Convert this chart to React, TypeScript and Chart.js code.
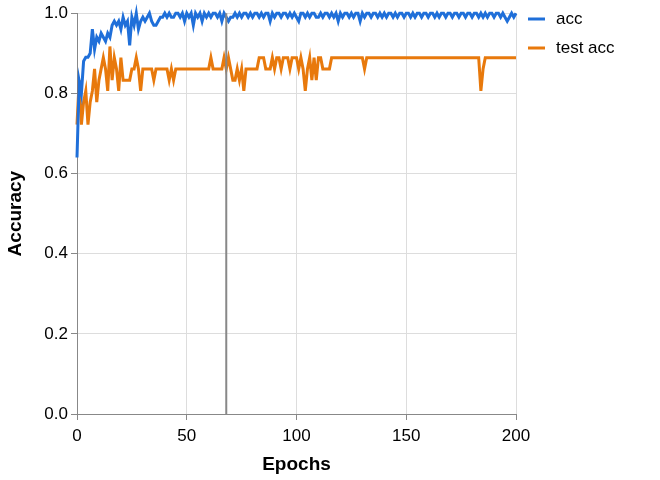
import React, { useEffect, useRef } from "react";
import Chart from "chart.js/auto";

const accValues = [
0.64,0.83,0.80,0.88,0.89,0.89,0.90,0.96,0.91,0.94,
0.93,0.95,0.94,0.93,0.95,0.94,0.97,0.98,0.97,0.98,
0.96,0.99,0.97,0.98,0.92,0.99,0.97,1.0,0.96,0.98,
0.99,0.98,0.99,1.0,0.98,0.97,0.97,0.98,0.99,0.99,
1.0,0.99,1.0,0.99,0.99,1.0,1.0,0.99,1.0,0.98,
1.0,0.99,1.0,0.97,1.0,0.99,1.0,0.98,1.0,0.99,
1.0,0.99,1.0,1.0,0.99,1.0,0.98,1.0,0.99,0.98,
0.99,0.99,1.0,0.99,1.0,0.99,1.0,1.0,0.99,1.0,
0.99,1.0,1.0,0.99,1.0,0.99,1.0,1.0,0.98,1.0,
0.99,1.0,1.0,0.99,1.0,1.0,0.99,1.0,0.99,1.0,
0.99,0.98,1.0,1.0,0.99,1.0,0.99,1.0,1.0,0.99,
0.99,1.0,0.99,1.0,1.0,0.99,1.0,0.99,1.0,0.98,
1.0,0.99,1.0,1.0,0.99,1.0,0.99,1.0,1.0,0.98,
1.0,0.99,1.0,1.0,0.99,1.0,1.0,0.99,1.0,0.99,
1.0,0.99,1.0,1.0,0.99,1.0,0.99,1.0,1.0,0.99,
1.0,1.0,0.99,1.0,0.99,1.0,1.0,0.99,1.0,1.0,
0.99,1.0,1.0,0.99,1.0,0.99,1.0,1.0,0.99,1.0,
1.0,0.99,1.0,1.0,0.99,1.0,1.0,0.99,1.0,1.0,
0.99,1.0,1.0,0.99,1.0,0.99,1.0,0.99,1.0,1.0,
0.99,1.0,1.0,0.99,1.0,0.99,0.98,0.99,1.0,0.99,
1.0
];

const testAccValues = [
0.722,0.833,0.722,0.778,0.806,0.722,0.778,0.806,0.861,0.778,
0.833,0.861,0.889,0.861,0.806,0.917,0.833,0.889,0.861,0.806,
0.889,0.833,0.833,0.833,0.833,0.861,0.861,0.889,0.861,0.806,
0.861,0.861,0.861,0.861,0.861,0.833,0.861,0.861,0.861,0.861,
0.861,0.861,0.833,0.861,0.833,0.861,0.861,0.861,0.861,0.861,
0.861,0.861,0.861,0.861,0.861,0.861,0.861,0.861,0.861,0.861,
0.861,0.889,0.861,0.861,0.861,0.861,0.861,0.889,0.861,0.889,
0.861,0.833,0.833,0.861,0.833,0.861,0.806,0.861,0.861,0.861,
0.861,0.861,0.861,0.889,0.889,0.889,0.861,0.861,0.861,0.889,
0.861,0.889,0.889,0.861,0.889,0.889,0.889,0.861,0.889,0.889,
0.889,0.861,0.889,0.861,0.806,0.861,0.889,0.833,0.889,0.833,
0.889,0.889,0.861,0.861,0.861,0.861,0.889,0.889,0.889,0.889,
0.889,0.889,0.889,0.889,0.889,0.889,0.889,0.889,0.889,0.889,
0.889,0.861,0.889,0.889,0.889,0.889,0.889,0.889,0.889,0.889,
0.889,0.889,0.889,0.889,0.889,0.889,0.889,0.889,0.889,0.889,
0.889,0.889,0.889,0.889,0.889,0.889,0.889,0.889,0.889,0.889,
0.889,0.889,0.889,0.889,0.889,0.889,0.889,0.889,0.889,0.889,
0.889,0.889,0.889,0.889,0.889,0.889,0.889,0.889,0.889,0.889,
0.889,0.889,0.889,0.889,0.806,0.861,0.889,0.889,0.889,0.889,
0.889,0.889,0.889,0.889,0.889,0.889,0.889,0.889,0.889,0.889,
0.889
];

const epochs = accValues.map((_, i) => i);
const ruleEpoch = 68;
const seriesNames = ["acc", "test acc"];
const seriesColors = ["#1f6fd9", "#e8790c"];
const FONT = "'Liberation Sans', Arial, sans-serif";

export default function App() {
  const ref = useRef<HTMLCanvasElement>(null);
  useEffect(() => {
    document.body.style.margin = "0";
    const rulePlugin = {
      id: "rule",
      afterDatasetsDraw(chart: any) {
        const { ctx, scales, chartArea } = chart;
        const x = scales.x.getPixelForValue(ruleEpoch);
        ctx.save();
        ctx.strokeStyle = "#888";
        ctx.lineWidth = 2;
        ctx.beginPath();
        ctx.moveTo(x, chartArea.top);
        ctx.lineTo(x, chartArea.bottom);
        ctx.stroke();
        ctx.font = `17px ${FONT}`;
        ctx.textBaseline = "middle";
        seriesNames.forEach((n, i) => {
          const y = 19 + i * 29;
          ctx.strokeStyle = seriesColors[i];
          ctx.lineWidth = 3;
          ctx.beginPath();
          ctx.moveTo(528, y);
          ctx.lineTo(545, y);
          ctx.stroke();
          ctx.fillStyle = "#000";
          ctx.fillText(n, 556, y);
        });
        ctx.restore();
      },
    };
    const chart = new Chart(ref.current!, {
      type: "line",
      data: {
        labels: epochs,
        datasets: [
          { label: seriesNames[0], data: accValues, borderColor: seriesColors[0], borderWidth: 3, pointRadius: 0, tension: 0, clip: false },
          { label: seriesNames[1], data: testAccValues, borderColor: seriesColors[1], borderWidth: 3, pointRadius: 0, tension: 0, clip: false },
        ],
      },
      options: {
        animation: false,
        responsive: false,
        layout: { padding: { top: 13, right: 144, left: 0, bottom: 0 } },
        plugins: { legend: { display: false }, tooltip: { enabled: false } },
        scales: {
          x: {
            type: "linear", min: 0, max: 200,
            ticks: { stepSize: 50, color: "#000", padding: 6, font: { size: 17, family: FONT }, maxRotation: 0 },
            grid: { color: "#ddd", tickColor: "#888", tickLength: 6 },
            border: { color: "#888" },
            title: { display: true, text: "Epochs", color: "#000", padding: { top: 6 }, font: { size: 19, weight: "bold", family: FONT } },
            afterFit(s: any) { s.height = 66; },
          },
          y: {
            min: 0, max: 1,
            ticks: { stepSize: 0.2, color: "#000", font: { size: 17, family: FONT }, callback: (v: any) => Number(v).toFixed(1) },
            grid: { color: "#ddd", tickColor: "#888", tickLength: 6 },
            border: { color: "#888" },
            title: { display: true, text: "Accuracy", color: "#000", font: { size: 19, weight: "bold", family: FONT } },
            afterFit(s: any) { s.width = 77; },
          },
        },
      },
      plugins: [rulePlugin],
    } as any);
    return () => chart.destroy();
  }, []);
  return <canvas ref={ref} width={660} height={480} style={{ display: "block" }} />;
}
